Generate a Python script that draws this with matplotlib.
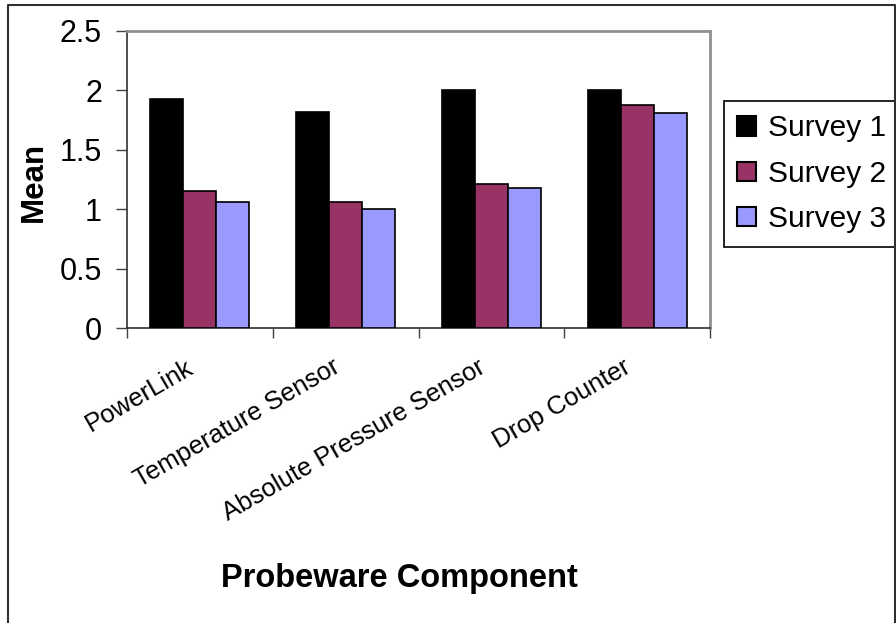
import numpy as np
import matplotlib as mpl
mpl.use("Agg")
import matplotlib.pyplot as plt
from matplotlib.lines import Line2D

# Chart data
components = ["PowerLink", "Temperature Sensor", "Absolute Pressure Sensor", "Drop Counter"]
survey_1 = [1.93, 1.82, 2.00, 2.00]
survey_2 = [1.15, 1.06, 1.21, 1.88]
survey_3 = [1.06, 1.00, 1.18, 1.81]
series_names = ["Survey 1", "Survey 2", "Survey 3"]
y_ticks = [0, 0.5, 1, 1.5, 2, 2.5]

colors = ["#000000", "#993366", "#9999FF"]

plt.rcParams['font.family'] = ['Liberation Sans', 'DejaVu Sans']

W, H = 896, 623
fig = plt.figure(figsize=(W / 100, H / 100), dpi=100)

# plot area in pixel coordinates of the reference
left, right, top, bottom = 127, 710, 31, 328
ax = fig.add_axes([left / W, 1 - bottom / H, (right - left) / W, (bottom - top) / H])

x = np.arange(len(components))
bar_w = 0.2264
for k, vals in enumerate([survey_1, survey_2, survey_3]):
    ax.bar(x + (k - 1) * bar_w, vals, width=bar_w, color=colors[k],
           edgecolor="black", linewidth=1.2, label=series_names[k], zorder=3)

ax.set_xlim(-0.5, len(components) - 0.5)
ax.set_ylim(0, 2.5)
ax.set_yticks(y_ticks)
ax.set_yticklabels(["0", "0.5", "1", "1.5", "2", "2.5"])
ax.tick_params(axis="y", direction="out", length=8, width=1, labelsize=22, pad=10,
               color="#404040")

# category boundaries get ticks, labels drawn separately
ax.set_xticks(np.arange(len(components) + 1) - 0.5)
ax.set_xticklabels([])
ax.tick_params(axis="x", direction="out", length=7, width=1, color="#404040")

for i, name in enumerate(components):
    ax.annotate(name, xy=(i, 0), xycoords=("data", "axes fraction"),
                xytext=(-14, -27), textcoords="offset pixels",
                rotation=30, rotation_mode="anchor", ha="right", va="top",
                fontsize=18.5)

for side in ["left", "bottom"]:
    ax.spines[side].set_color("#303030")
    ax.spines[side].set_linewidth(1.2)
for side in ["top", "right"]:
    ax.spines[side].set_color("#909090")
    ax.spines[side].set_linewidth(2)

fig.text(34 / W, 1 - 182 / H, "Mean", rotation=90, ha="center", va="center",
         fontsize=22.5, fontweight="bold")
fig.text(399 / W, 1 - 578 / H, "Probeware Component", ha="center", va="center",
         fontsize=23.5, fontweight="bold")

leg = ax.legend(loc="upper left", bbox_to_anchor=(724 / W, 1 - 101 / H),
                bbox_transform=fig.transFigure, fontsize=21.5, frameon=True,
                fancybox=False, edgecolor="black", framealpha=1,
                handlelength=0.62, handleheight=0.62, handletextpad=0.4,
                labelspacing=0.58, borderpad=0.45, borderaxespad=0)
leg.get_frame().set_linewidth(1.2)
for h in leg.legend_handles:
    h.set_edgecolor("black")
    h.set_linewidth(1.5)

# outer chart border
fig.add_artist(Line2D([8 / W, 8 / W, 895 / W, 895 / W], [0, 1 - 5 / H, 1 - 5 / H, 0],
                      transform=fig.transFigure, color="#303030", linewidth=1.5))

fig.savefig("out.png", dpi=100)
